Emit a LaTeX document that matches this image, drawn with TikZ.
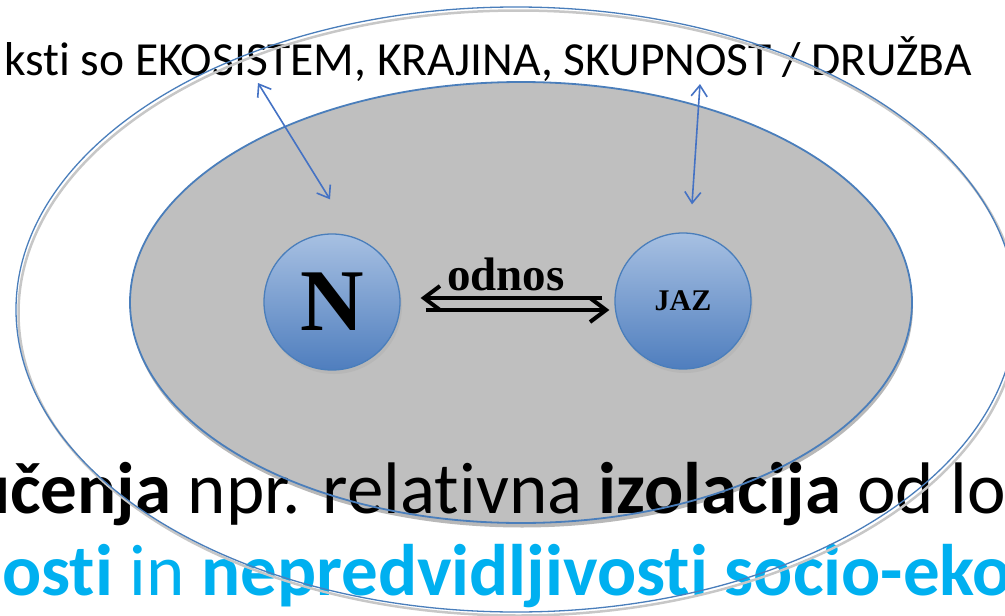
\documentclass[tikz,border=0pt]{standalone}
\usepackage{fontspec}
\setmainfont{Carlito}[Ligatures=NoCommon]
\newfontfamily\serifb{Liberation Serif}
\usetikzlibrary{arrows.meta,shapes.geometric,calc}
\definecolor{ringblue}{HTML}{4A7EBB}
\definecolor{arrblue}{HTML}{4472C4}
\definecolor{innergray}{HTML}{BFBFBF}
\definecolor{cyantext}{HTML}{00B0F0}
\definecolor{ctop}{HTML}{A7C0E2}
\definecolor{cbot}{HTML}{4F7EBE}
\begin{document}
\begin{tikzpicture}[x=1pt,y=-1pt,
  ring/.style={ellipse, draw=ringblue, inner sep=0pt},
  ball/.style={circle, draw=ringblue, line width=1.3pt, top color=ctop, bottom color=cbot, minimum size=136pt, inner sep=0pt},
  blink/.style={draw=arrblue, line width=1.6pt, {Straight Barb[length=11pt,width=16pt]}-{Straight Barb[length=11pt,width=16pt]}},
  relarrow/.style={draw=black, line width=4pt, -{Straight Barb[length=16pt,width=24pt,line width=4pt]}},
  txt/.style={inner sep=0pt}]
\useasboundingbox (0,0) rectangle (1005,616);
\clip (0,0) rectangle (1005,616);
% inner ellipse fill with shadow
\fill[black!28] (522,307) ellipse [x radius=391pt, y radius=220.5pt];
\fill[innergray] (521,302.5) ellipse [x radius=391pt, y radius=220.5pt];
% texts
\node[txt, anchor=base east, font=\fontsize{47.5}{52}\selectfont] (toptext) at (972,75) {ksti so EKOSISTEM, KRAJINA, SKUPNOST / DRUŽBA};
\node[txt, anchor=base west, font=\fontsize{73}{78}\selectfont] (line1) at (10,513) {\llap{\textbf{u}}\textbf{čenja} npr. relativna \textbf{izolacija} od lo};
\node[txt, anchor=base west, font=\fontsize{73}{78}\selectfont, text=cyantext] (line2) at (2,595) {\textbf{osti} in \textbf{nepredvidljivosti socio-eko}};
% outlines
\draw[black!22, line width=2.5pt] (518.5,313) ellipse [x radius=500pt, y radius=302.5pt];
\node[ring, line width=1.3pt, minimum width=1000pt, minimum height=605pt] (outer) at (516,309.5) {};
\node[ring, line width=1.8pt, minimum width=782pt, minimum height=441pt] (inner) at (521,302.5) {};
% circles
\fill[black!30, opacity=0.6] (334,306) circle [radius=68pt];
\fill[black!30, opacity=0.6] (685,305) circle [radius=68pt];
\node[ball, font=\serifb\bfseries\fontsize{88}{88}\selectfont] (N) at (332,302) {\raisebox{-3pt}{N}};
\node[ball, font=\serifb\bfseries\fontsize{30}{30}\selectfont] (JAZ) at (683,301) {\raisebox{-3pt}{JAZ}};
% relation arrows
\draw[relarrow] ([shift={(-12,-3)}]JAZ.west) -- ([shift={(20,-4)}]N.east);
\draw[relarrow] ([shift={(25,8)}]N.east) -- ([shift={(-5,9)}]JAZ.west);
\node[txt, anchor=base, font=\serifb\bfseries\fontsize{47}{47}\selectfont] (odnos) at (506,290) {odnos};
% context links
\coordinate (t1) at (258,83);
\coordinate (t2) at (700,84);
\draw[blink] (t1) -- ([shift={(-2,-34)}]N.north);
\draw[blink] (t2) -- ([shift={(9,-28)}]JAZ.north);
\end{tikzpicture}
\end{document}
